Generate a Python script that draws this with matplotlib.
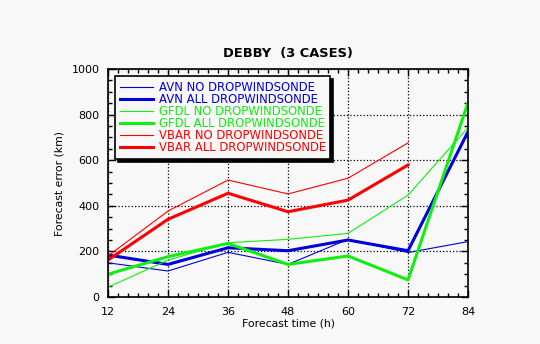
import matplotlib
matplotlib.use("Agg")
import matplotlib.pyplot as plt
from matplotlib.ticker import MultipleLocator

plt.rcParams['font.family'] = ['DejaVu Sans']

hours = [12, 24, 36, 48, 60, 72, 84]
hours_vbar = [12, 24, 36, 48, 60, 72]

avn_no = [150, 114, 196, 143, 253, 195, 243]
avn_all = [184, 143, 216, 203, 250, 203, 725]
gfdl_no = [43, 162, 238, 253, 279, 447, 743]
gfdl_all = [100, 177, 235, 143, 180, 75, 852]
vbar_no = [180, 377, 513, 452, 521, 676]
vbar_all = [162, 341, 455, 374, 425, 579]

blue = '#0000dd'
green = '#11ee11'
red = '#ff0000'
bg = '#f8f8f8'

fig = plt.figure(figsize=(5.4, 3.44), dpi=100, facecolor=bg)
ax = fig.add_axes([0.2, 0.1366, 0.6667, 0.6628])
ax.set_facecolor(bg)

thin = 0.8
thick = 2.2
ax.plot(hours, avn_no, color=blue, lw=thin, label='AVN NO DROPWINDSONDE')
ax.plot(hours, avn_all, color=blue, lw=thick, label='AVN ALL DROPWINDSONDE')
ax.plot(hours, gfdl_no, color=green, lw=thin, label='GFDL NO DROPWINDSONDE')
ax.plot(hours, gfdl_all, color=green, lw=thick, label='GFDL ALL DROPWINDSONDE')
ax.plot(hours_vbar, vbar_no, color=red, lw=thin, label='VBAR NO DROPWINDSONDE')
ax.plot(hours_vbar, vbar_all, color=red, lw=thick, label='VBAR ALL DROPWINDSONDE')

ax.set_xlim(12, 84)
ax.set_ylim(0, 1000)
ax.xaxis.set_major_locator(MultipleLocator(12))
ax.xaxis.set_minor_locator(MultipleLocator(2))
ax.yaxis.set_major_locator(MultipleLocator(200))
ax.yaxis.set_minor_locator(MultipleLocator(50))
ax.tick_params(which='both', direction='in', top=True, right=True,
               labelsize=8, color='black', width=1)
ax.tick_params(which='major', length=5)
ax.tick_params(axis='x', which='major', pad=7)
ax.tick_params(axis='y', which='major', pad=6)
ax.tick_params(which='minor', length=3)
ax.grid(True, which='major', color='black', ls=':', lw=0.9)
for s in ax.spines.values():
    s.set_linewidth(1.2)

ax.set_xlabel('Forecast time (h)', fontsize=7.8, labelpad=1)
ax.set_ylabel('Forecast error (km)', fontsize=7.8, labelpad=5)
ax.set_title('DEBBY  (3 CASES)', fontsize=9.4, fontweight='bold', pad=9)

leg = ax.legend(loc='upper left', bbox_to_anchor=(0.019, 0.969), borderaxespad=0,
                fontsize=8.4, handlelength=2.9, handletextpad=0.45, labelspacing=-0.08,
                borderpad=0.4, fancybox=False, framealpha=1,
                shadow={'color': 'black', 'alpha': 1})
leg.get_frame().set_edgecolor('black')
leg.get_frame().set_linewidth(1.2)
leg.get_frame().set_facecolor(bg)
for t, l in zip(leg.get_texts(), leg.get_lines()):
    t.set_color(l.get_color())

fig.savefig('out.png', dpi=100, facecolor=bg)
